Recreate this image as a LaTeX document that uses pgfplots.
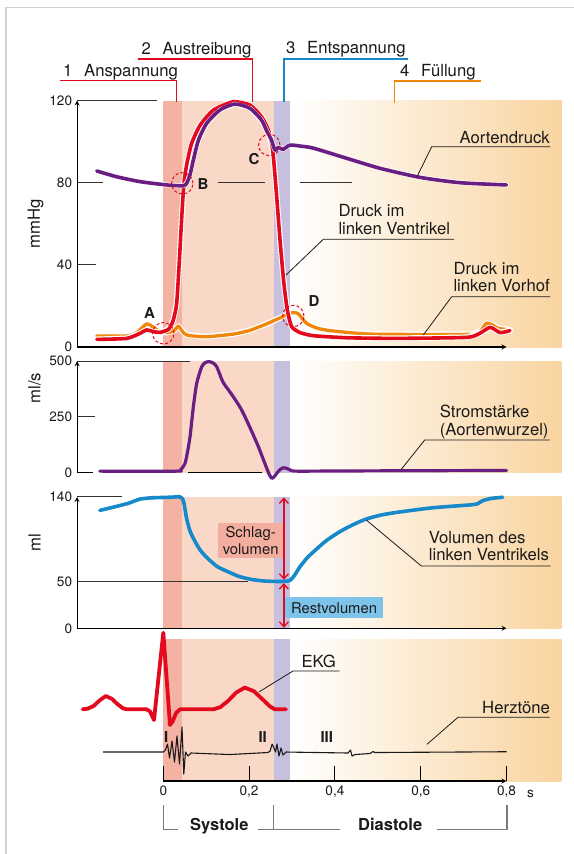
\documentclass[border=0pt]{standalone}
\usepackage{fontspec}
\setmainfont{TeX Gyre Heros}
\usepackage{pgfplots}
\usepackage{pgfplotstable}
\pgfplotsset{compat=1.18}
\usetikzlibrary{arrows.meta}
\definecolor{cAn}{HTML}{F4B2A3}
\definecolor{cAu}{HTML}{F9D8C8}
\definecolor{cEn}{HTML}{C7BFDE}
\definecolor{cFu}{HTML}{F9D4A0}
\definecolor{cRed}{HTML}{E30A1E}
\definecolor{cPur}{HTML}{6B1E82}
\definecolor{cOra}{HTML}{F0860A}
\definecolor{cBlu}{HTML}{1589CA}
\definecolor{cTxt}{HTML}{1A1A1A}
\definecolor{cGray}{HTML}{7A7A7A}
\definecolor{cSchlag}{HTML}{F4AE9F}
\definecolor{cRest}{HTML}{7EC4EA}
\newcommand{\lbl}{\fontsize{16.7pt}{17.3pt}\selectfont}
\newcommand{\tck}{\fontsize{13.6pt}{14pt}\selectfont}
\newcommand{\bld}{\fontsize{15pt}{16pt}\selectfont\bfseries}
\newcommand{\boxf}{\fontsize{14.8pt}{16.6pt}\selectfont}

\pgfplotstableread{
t v
-0.155 85.7
-0.109 82.9
-0.054 80.5
0.008 78.9
0.047 78.5
0.055 80.0
0.062 83.7
0.070 91.0
0.082 100.8
0.101 108.9
0.132 115.4
0.167 118.3
0.202 116.2
0.229 110.5
0.240 105.6
0.252 100.8
0.260 95.9
0.268 97.2
0.279 96.2
0.295 98.3
0.320 97.8
0.350 96.8
0.427 91.9
0.505 87.0
0.598 82.6
0.691 80.0
0.800 78.9
}\aorta

\pgfplotstableread{
t v
-0.155 3.7
-0.085 4.2
-0.054 6.7
-0.039 8.3
-0.023 7.5
-0.008 7.1
0.012 8.6
0.023 13
0.031 21
0.037 40.7
0.043 63.5
0.048 79.7
0.055 89.4
0.066 99.2
0.086 108.1
0.117 115.4
0.163 119.4
0.202 117.8
0.229 112.1
0.245 105.6
0.255 95.9
0.263 76.4
0.272 52.1
0.281 31
0.289 18
0.299 9.9
0.319 7
0.350 5.5
0.428 4.5
0.544 4.2
0.707 4.7
0.738 6.7
0.762 9.6
0.785 7
0.808 8.0
}\lvpress

\pgfplotstableread{
t v
-0.155 5.4
-0.085 5.4
-0.062 7
-0.039 11.2
-0.023 9.6
-0.008 7.5
0.008 7
0.025 8
0.035 10.2
0.043 8
0.055 5.8
0.100 5
0.163 6.3
0.200 8
0.240 11.2
0.270 14
0.295 16.4
0.305 16.7
0.315 16.1
0.334 11.5
0.360 9.1
0.388 8
0.450 6.7
0.505 6.2
0.722 6.2
0.740 8
0.753 11.5
0.768 10.7
0.780 9.1
0.808 8.3
}\lapress

\pgfplotstableread{
t v
-0.148 7
0.030 7
0.040 12
0.0506 42
0.0565 95
0.0622 161
0.070 296
0.0778 401
0.0895 475
0.098 494
0.107 498
0.116 492
0.1245 475
0.1385 408
0.150 376
0.163 341
0.180 290
0.194 236
0.210 168
0.2215 117
0.232 65
0.241 20
0.247 -8
0.2527 -25
0.258 -19
0.2643 -3
0.272 14
0.2797 22
0.287 20
0.296 12
0.310 7
0.450 8
0.800 10
}\flow

\pgfplotstableread{
t v
-0.148 125.7
-0.109 130
-0.080 133.5
-0.055 137.7
-0.030 139
-0.008 139.4
0.020 139.8
0.038 140.3
0.044 138.5
0.048 133.6
0.0545 116.5
0.062 104
0.070 96
0.085 84
0.101 75.6
0.125 66
0.148 60.9
0.175 55.5
0.202 52.4
0.230 50.6
0.256 50
0.279 50
0.295 51
0.305 56
0.318 65.3
0.335 75
0.356 84
0.380 93.5
0.411 102.9
0.440 110
0.473 116.5
0.510 121
0.551 124
0.628 128.5
0.721 131.8
0.735 133.5
0.745 136.2
0.765 138.5
0.791 139.7
}\volume

\pgfplotstableread{
t v
-0.188 0
-0.176 0.01
-0.162 0.05
-0.148 0.13
-0.134 0.19
-0.120 0.15
-0.106 0.07
-0.094 0.015
-0.085 0
-0.039 0
-0.031 -0.03
-0.0217 -0.153
0 1.094
0.0156 -0.224
0.022 -0.17
0.030 -0.05
0.039 0
0.1166 0
0.1325 0.03
0.151 0.12
0.170 0.24
0.190 0.31
0.211 0.26
0.230 0.15
0.249 0.04
0.260 0
0.286 0
}\ekg

\pgfplotstableread{
t v
-0.140 -0.61
0.000 -0.61
0.005 -0.581
0.0098 -0.496
0.0145 -0.696
0.0203 -0.453
0.0261 -0.753
0.0319 -0.381
0.0378 -0.781
0.0436 -0.253
0.0478 -0.924
0.0517 -0.61
0.0576 -0.667
0.0646 -0.624
0.155 -0.646
0.244 -0.617
0.249 -0.596
0.2536 -0.496
0.258 -0.553
0.2615 -0.61
0.265 -0.496
0.2697 -0.667
0.2744 -0.553
0.279 -0.653
0.286 -0.61
0.4305 -0.624
0.4364 -0.581
0.440 -0.667
0.447 -0.646
0.4818 -0.631
0.4888 -0.603
0.4935 -0.617
0.800 -0.606
}\sounds

\tikzset{
 grd/.style={black!80, line width=1pt},
 lead/.style={cTxt, line width=0.8pt},
}
\pgfplotsset{
 panel/.style={x=429pt, xmin=-0.201, xmax=0.8, enlargelimits=false, clip=false,
   axis on top, anchor=south west,
   axis line style={-, line width=1.2pt, black},
   major tick length=0pt, xtick=\empty,
   ticklabel style={font=\tck, text=cTxt},
   yticklabel style={xshift=-1.5pt}},
 curve/.style={line width=3.6pt, line join=round, line cap=round},
 halo/.style={white, line width=5.8pt, line join=round, line cap=round, forget plot},
}

\begin{document}
\begin{tikzpicture}
\useasboundingbox (0pt,0pt) rectangle (573pt,-854pt);
\fill[white] (0pt,0pt) rectangle (573pt,-854pt);
\draw[black!18, line width=1.3pt] (6pt,-860pt) -- (6pt,-7.3pt) -- (590pt,-7.3pt);

% ---------------- pressure ----------------
\begin{axis}[panel, at={(77.1pt,-347pt)}, y=2.054pt, ymin=0, ymax=120,
  axis x line=bottom, axis y line=left,
  ytick={0,40,80,120}, yticklabels={0,40,80,120}]
\fill[cAn] (axis cs:0,0) rectangle (axis cs:0.0436,120);
\fill[cAu] (axis cs:0.0436,0) rectangle (axis cs:0.258,120);
\fill[cEn] (axis cs:0.258,0) rectangle (axis cs:0.2955,120);
\fill[left color=white, right color=cFu] (axis cs:0.2955,0) rectangle (axis cs:0.928,120);
\draw[grd] (axis cs:-0.201,120) -- (axis cs:-0.0147,120);
\draw[grd] (axis cs:-0.201,80) -- (axis cs:-0.1406,80);
\draw[grd] (axis cs:0.1276,80) -- (axis cs:0.237,80);
\draw[grd] (axis cs:0.3186,80) -- (axis cs:0.4399,80);
\draw[grd] (axis cs:-0.201,40) -- (axis cs:-0.157,40);
\addplot[halo] table {\lapress};
\addplot[curve, cOra, line width=3.3pt, smooth, tension=0.4] table {\lapress};
\addplot[halo] table {\lvpress};
\addplot[curve, cRed, smooth, tension=0.35] table {\lvpress};
\addplot[halo, line width=4.8pt] table {\aorta};
\addplot[curve, cPur, smooth, tension=0.4] table {\aorta};
\end{axis}

% ---------------- volume ----------------
\begin{axis}[panel, at={(77.1pt,-628.3pt)}, y=0.938pt, ymin=0, ymax=140,
  axis x line=bottom, axis y line=left,
  ytick={0,50,140}, yticklabels={0,50,140}]
\fill[cAn] (axis cs:0,0) rectangle (axis cs:0.0436,140);
\fill[cAu] (axis cs:0.0436,0) rectangle (axis cs:0.258,140);
\fill[cEn] (axis cs:0.258,0) rectangle (axis cs:0.2955,140);
\fill[left color=white, right color=cFu] (axis cs:0.2955,0) rectangle (axis cs:0.928,140);
\draw[grd] (axis cs:-0.201,140) -- (axis cs:-0.097,140);
\draw[grd] (axis cs:-0.201,50) -- (axis cs:0.198,50);
\addplot[curve, cBlu, smooth, tension=0.4] table {\volume};
\fill[cSchlag] (axis cs:0.128,74.6) rectangle (axis cs:0.279,112.6);
\node[font=\boxf, text=cTxt, align=center, inner sep=0] at (axis cs:0.2035,93.6) {Schlag-\\volumen};
\fill[cRest] (axis cs:0.2837,10.7) rectangle (axis cs:0.5119,33);
\node[font=\boxf, text=cTxt, inner sep=0] at (axis cs:0.398,21.9) {Restvolumen};
\draw[cRed, line width=1.3pt, {Straight Barb[length=5pt,width=9pt]}-{Straight Barb[length=5pt,width=9pt]}] (axis cs:0.281,139.5) -- (axis cs:0.281,51.8);
\draw[cRed, line width=1.3pt, {Straight Barb[length=5pt,width=9pt]}-{Straight Barb[length=5pt,width=9pt]}] (axis cs:0.281,48.2) -- (axis cs:0.281,0.6);
\end{axis}

% ---------------- flow ----------------
\begin{axis}[panel, at={(77.1pt,-472.7pt)}, y=0.223pt, ymin=0, ymax=500,
  axis x line=none, axis y line=left,
  ytick={0,250,500}, yticklabels={0,250,500}]
\fill[cAn] (axis cs:0,0) rectangle (axis cs:0.0436,500);
\fill[cAu] (axis cs:0.0436,0) rectangle (axis cs:0.258,500);
\fill[cEn] (axis cs:0.258,0) rectangle (axis cs:0.2955,500);
\fill[left color=white, right color=cFu] (axis cs:0.2955,0) rectangle (axis cs:0.928,500);
\draw[grd] (axis cs:-0.201,500) -- (axis cs:0.0622,500);
\draw[grd] (axis cs:-0.201,250) -- (axis cs:-0.159,250);
\draw[black, line width=1.2pt] (axis cs:-0.201,0) -- (axis cs:-0.164,0);
\draw[black, line width=1.2pt] (axis cs:0.0576,0) -- (axis cs:0.23,0);
\addplot[curve, cPur, line width=3.2pt, smooth, tension=0.4] table {\flow};
\end{axis}

% ---------------- EKG / heart sounds ----------------
\begin{axis}[panel, at={(163.3pt,-781pt)}, xmin=0, xmax=0.8, y=70pt, ymin=-1.024, ymax=1.004,
  axis x line=bottom, axis y line=none,
  xtick={0,0.2,0.4,0.6,0.8}, xticklabels={0,{0,2},{0,4},{0,6},{0,8}},
  tick align=inside, major tick length=15pt,
  xtick style={black, line width=1.1pt},
  xticklabel style={yshift=-1pt}]
\fill[cAn] (axis cs:0,-1.024) rectangle (axis cs:0.0436,1.004);
\fill[cAu] (axis cs:0.0436,-1.024) rectangle (axis cs:0.258,1.004);
\fill[cEn] (axis cs:0.258,-1.024) rectangle (axis cs:0.2955,1.004);
\fill[left color=white, right color=cFu] (axis cs:0.2955,-1.024) rectangle (axis cs:0.928,1.004);
\addplot[cTxt, line width=1.1pt, line join=round] table {\sounds};
\addplot[curve, cRed, line width=3.8pt, line join=round, line cap=round] table {\ekg};
\end{axis}

% ---------------- annotations ----------------
\begin{scope}[x=1pt,y=-1pt]
\node[anchor=base west, inner sep=0, font=\lbl, text=cTxt] at (141.5,54) {2\hspace{0.7em}Austreibung};
\node[anchor=base west, inner sep=0, font=\lbl, text=cTxt] at (63,76) {1\hspace{0.7em}Anspannung};
\node[anchor=base west, inner sep=0, font=\lbl, text=cTxt] at (286,53.5) {3\hspace{0.7em}Entspannung};
\node[anchor=base west, inner sep=0, font=\lbl, text=cTxt] at (400,76) {4\hspace{0.7em}Füllung};
\draw[cRed, line width=1.4pt] (138,59) -- (252.3,59) -- (252.3,102);
\draw[cRed, line width=1.4pt] (60,80.7) -- (176.7,80.7) -- (176.7,102);
\draw[cBlu, line width=1.4pt] (408,59) -- (284,59) -- (284,102);
\draw[cOra, line width=1.4pt] (480.7,81) -- (394.7,81) -- (394.7,103);

\node[rotate=90, font=\lbl, text=cTxt] at (35.5,224) {mmHg};
\node[rotate=90, font=\lbl, text=cTxt] at (34.5,388.3) {ml/s};
\node[rotate=90, font=\lbl, text=cTxt] at (34.5,542.8) {ml};

\foreach \cx/\cy in {182.3/183.3, 269.3/145, 163.3/333.3, 293.3/316}
  \draw[cRed, line width=1pt, dash pattern=on 3pt off 2.2pt] (\cx,\cy) circle[radius=10.7pt];
\node[anchor=base west, inner sep=0, font=\bld, text=cTxt] at (144,318.3) {A};
\node[anchor=base west, inner sep=0, font=\bld, text=cTxt] at (197.3,189.3) {B};
\node[anchor=base west, inner sep=0, font=\bld, text=cTxt] at (248.3,164) {C};
\node[anchor=base west, inner sep=0, font=\bld, text=cTxt] at (308.3,306.7) {D};

\node[anchor=base east, inner sep=0, font=\lbl, text=cTxt] at (550,143.3) {Aortendruck};
\draw[lead] (550,146.7) -- (431.7,146.7) -- (416.7,177.3);
\node[anchor=base west, inner sep=0, font=\lbl, text=cTxt] at (338.3,216) {Druck im};
\node[anchor=base west, inner sep=0, font=\lbl, text=cTxt] at (338.3,234) {linken Ventrikel};
\draw[lead] (454,239.3) -- (323.3,239.3) -- (286,275);
\node[anchor=base west, inner sep=0, font=\lbl, text=cTxt] at (453.3,274.3) {Druck im};
\node[anchor=base west, inner sep=0, font=\lbl, text=cTxt] at (453.3,291) {linken Vorhof};
\draw[lead] (550,296.7) -- (451.7,296.7) -- (423.3,335);
\node[anchor=base west, inner sep=0, font=\lbl, text=cTxt] at (439.7,417.3) {Stromstärke};
\node[anchor=base west, inner sep=0, font=\lbl, text=cTxt] at (439.7,435) {(Aortenwurzel)};
\draw[lead] (549.7,440) -- (424.7,440) -- (401.3,469.3);
\node[anchor=base west, inner sep=0, font=\lbl, text=cTxt] at (428.7,543.3) {Volumen des};
\node[anchor=base west, inner sep=0, font=\lbl, text=cTxt] at (428.7,560.7) {linken Ventrikels};
\draw[lead] (550.7,566) -- (421.3,566) -- (366.3,520);
\node[anchor=base west, inner sep=0, font=\lbl, text=cTxt] at (301.3,667.3) {EKG};
\draw[lead] (339.7,671) -- (293,671) -- (259.3,691.7);
\node[anchor=base west, inner sep=0, font=\lbl, text=cTxt] at (482,713.3) {Herztöne};
\draw[lead] (549.7,717.3) -- (458,717.3) -- (427,744.3);

\node[anchor=base west, inner sep=0, font=\bld, text=cTxt] at (164,742.7) {I};
\node[anchor=base west, inner sep=0, font=\bld, text=cTxt] at (258.3,742.7) {II};
\node[anchor=base west, inner sep=0, font=\bld, text=cTxt] at (320.3,742.7) {III};

\node[anchor=base west, inner sep=0, font=\tck, text=cTxt] at (527,797.6) {s};
\draw[cGray, line width=1.3pt] (163.3,805) -- (163.3,829.3) -- (178.3,829.3);
\draw[cGray, line width=1.3pt] (258.3,829.3) -- (339.7,829.3);
\draw[cGray, line width=1.3pt] (273.3,805) -- (273.3,829.3);
\draw[cGray, line width=1.3pt] (437,829.3) -- (507,829.3) -- (507,805);
\node[anchor=base west, inner sep=0, font=\fontsize{16.5pt}{17pt}\selectfont\bfseries, text=cTxt] at (190,830.5) {Systole};
\node[anchor=base west, inner sep=0, font=\fontsize{16.5pt}{17pt}\selectfont\bfseries, text=cTxt] at (358,830.5) {Diastole};
\end{scope}
\end{tikzpicture}
\end{document}
